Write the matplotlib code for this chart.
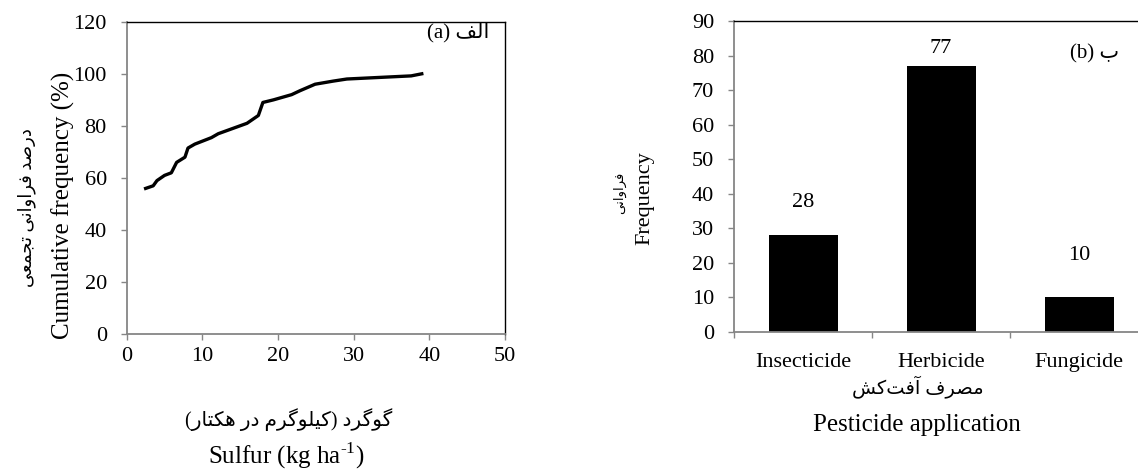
import numpy as np
import matplotlib
matplotlib.use("Agg")
import matplotlib.pyplot as plt
from matplotlib.ticker import FixedLocator, NullFormatter

# cumulative frequency of sulfur use (kg/ha)
sulfur_x = [2.5, 3.5, 4.0, 5.0, 5.9, 6.6, 7.7, 8.1, 9.0, 11.2, 12.1, 15.9,
            17.4, 18.0, 19.4, 21.8, 22.9, 24.9, 27.3, 29.1, 37.6, 39.0]
sulfur_cum = [56, 57, 59, 61, 62, 66, 68, 71.5, 73, 75.5, 77, 81,
              84, 89, 90, 92, 93.5, 96, 97.2, 98, 99.2, 100]

# pesticide application counts
pest_types = ["Insecticide", "Herbicide", "Fungicide"]
pest_counts = [28, 77, 10]

plt.rcParams["font.family"] = ["Liberation Serif", "DejaVu Sans"]
plt.rcParams["mathtext.fontset"] = "custom"
plt.rcParams["mathtext.rm"] = "Liberation Serif"

# --- minimal Persian shaping (presentation forms, visual order) ---
# letter: (isolated, final, initial, medial); None -> right-joining only
FORMS = {
    "\u0627": (0xFE8D, 0xFE8E, None, None),
    "\u0622": (0xFE81, 0xFE82, None, None),
    "\u0628": (0xFE8F, 0xFE90, 0xFE91, 0xFE92),
    "\u062A": (0xFE95, 0xFE96, 0xFE97, 0xFE98),
    "\u062C": (0xFE9D, 0xFE9E, 0xFE9F, 0xFEA0),
    "\u062F": (0xFEA9, 0xFEAA, None, None),
    "\u0631": (0xFEAD, 0xFEAE, None, None),
    "\u0634": (0xFEB5, 0xFEB6, 0xFEB7, 0xFEB8),
    "\u0635": (0xFEB9, 0xFEBA, 0xFEBB, 0xFEBC),
    "\u0639": (0xFEC9, 0xFECA, 0xFECB, 0xFECC),
    "\u0641": (0xFED1, 0xFED2, 0xFED3, 0xFED4),
    "\u0644": (0xFEDD, 0xFEDE, 0xFEDF, 0xFEE0),
    "\u0645": (0xFEE1, 0xFEE2, 0xFEE3, 0xFEE4),
    "\u0646": (0xFEE5, 0xFEE6, 0xFEE7, 0xFEE8),
    "\u0647": (0xFEE9, 0xFEEA, 0xFEEB, 0xFEEC),
    "\u0648": (0xFEED, 0xFEEE, None, None),
    "\u06A9": (0xFB8E, 0xFB8F, 0xFB90, 0xFB91),
    "\u06AF": (0xFB92, 0xFB93, 0xFB94, 0xFB95),
    "\u06CC": (0xFBFC, 0xFBFD, 0xFBFE, 0xFBFF),
}
MIRROR = {"(": ")", ")": "("}


def fa(text):
    out = []
    for i, ch in enumerate(text):
        if ch not in FORMS:
            if ch != "\u200c":
                out.append(MIRROR.get(ch, ch))
            continue
        prev = text[i - 1] if i > 0 else ""
        nxt = text[i + 1] if i + 1 < len(text) else ""
        join_prev = prev in FORMS and FORMS[prev][2] is not None
        join_next = FORMS[ch][2] is not None and nxt in FORMS
        iso, fin, ini, med = FORMS[ch]
        if join_prev and join_next:
            code = med
        elif join_prev:
            code = fin
        elif join_next:
            code = ini
        else:
            code = iso
        out.append(chr(code))
    return "".join(reversed(out))


W, H = 1138, 472
fig = plt.figure(figsize=(W / 100, H / 100), dpi=100)

grey = "#868686"
tick_size = 16
title_size = 18


def px(x, y):
    return x / W, 1 - y / H


def style_axes(ax):
    for side in ["left", "bottom"]:
        ax.spines[side].set_color(grey)
        ax.spines[side].set_linewidth(1.3)
    for side in ["top", "right"]:
        ax.spines[side].set_color("black")
        ax.spines[side].set_linewidth(1.0)
    ax.tick_params(which="major", direction="out", length=4.3, width=1.0,
                   color=grey, labelsize=tick_size)
    ax.tick_params(axis="y", pad=10)


# (a) cumulative frequency line
ax1 = fig.add_axes([126.7 / W, 1 - 334.3 / H, (505 - 126.7) / W, (334.3 - 21.7) / H])
ax1.plot(sulfur_x, sulfur_cum, color="black", lw=2.4, solid_joinstyle="round")
ax1.set_xlim(0, 50)
ax1.set_ylim(0, 120)
ax1.set_xticks(np.arange(0, 51, 10))
ax1.set_yticks(np.arange(0, 121, 20))
style_axes(ax1)
ax1.tick_params(axis="x", pad=4.5)
ax1.text(48, 116, "(a) " + fa("الف"), ha="right", va="center", fontsize=15)

fig.text(*px(63, 205), "Cumulative frequency (%)", rotation=90,
         ha="center", va="center", fontsize=title_size)
fig.text(*px(27, 208), fa("درصد فراوانی تجمعی"), rotation=90,
         ha="center", va="center", fontsize=13)
fig.text(*px(289, 420), fa("گوگرد (کیلوگرم در هکتار)"),
         ha="center", va="center", fontsize=14.5)
fig.text(*px(286, 456), r"Sulfur (kg ha$^{\text{-1}}$)",
         ha="center", va="center", fontsize=title_size)

# (b) pesticide bars
ax2 = fig.add_axes([734 / W, 1 - 332 / H, (1148 - 734) / W, (332 - 21) / H])
centers = np.arange(len(pest_types)) + 0.5
ax2.bar(centers, pest_counts, width=0.5, color="black")
ax2.set_xlim(0, 3)
ax2.set_ylim(0, 90)
ax2.set_yticks(np.arange(0, 91, 10))
ax2.xaxis.set_major_locator(FixedLocator([0, 1, 2, 3]))
ax2.xaxis.set_major_formatter(NullFormatter())
ax2.set_xticks(centers, minor=True)
ax2.set_xticklabels(pest_types, minor=True)
style_axes(ax2)
ax2.tick_params(axis="x", which="minor", length=0, pad=15, labelsize=tick_size)

label_gap = [9.6, 5.0, 12.2]
for c, v, g in zip(centers, pest_counts, label_gap):
    ax2.text(c, v + g, str(v), ha="center", va="center", fontsize=tick_size)
ax2.text(2.79, 80.5, "(b) " + fa("ب"), ha="right", va="center", fontsize=15)

fig.text(*px(645, 198), "Frequency", rotation=90, ha="center", va="center",
         fontsize=tick_size)
fig.text(*px(620, 193), fa("فراوانی"), rotation=90, ha="center", va="center",
         fontsize=9.5)
fig.text(*px(918, 387), fa("مصرف آفت\u200cکش"), ha="center", va="center",
         fontsize=14)
fig.text(*px(917, 425), "Pesticide application", ha="center", va="center",
         fontsize=title_size)

fig.savefig("out.png", dpi=100)
